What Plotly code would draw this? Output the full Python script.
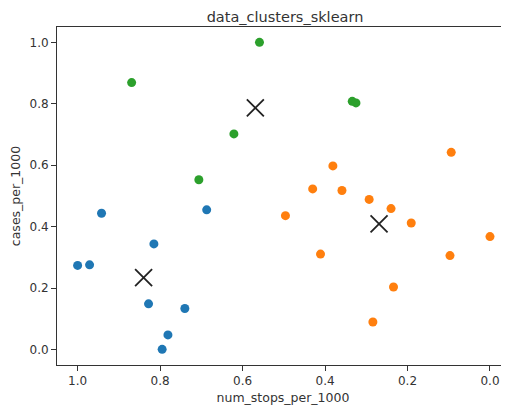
import plotly.graph_objects as go

# cluster 0 (blue)
c0_x = [1.000, 0.971, 0.942, 0.815, 0.687, 0.828, 0.740, 0.781, 0.795]
c0_y = [0.274, 0.276, 0.444, 0.344, 0.455, 0.149, 0.134, 0.048, 0.001]
# cluster 1 (orange)
c1_x = [0.094, 0.381, 0.430, 0.359, 0.293, 0.240, 0.191, 0.496, 0.000, 0.411, 0.097, 0.234, 0.284]
c1_y = [0.642, 0.598, 0.523, 0.518, 0.489, 0.459, 0.412, 0.436, 0.368, 0.311, 0.306, 0.204, 0.090]
# cluster 2 (green)
c2_x = [0.559, 0.869, 0.334, 0.325, 0.621, 0.706]
c2_y = [1.000, 0.869, 0.808, 0.803, 0.702, 0.553]
# centroids
cen_x = [0.840, 0.269, 0.569]
cen_y = [0.234, 0.409, 0.787]

tick_vals = [0.0, 0.2, 0.4, 0.6, 0.8, 1.0]
tick_text = ["0.0", "0.2", "0.4", "0.6", "0.8", "1.0"]

colors = ["#1f77b4", "#ff7f0e", "#2ca02c"]

fig = go.Figure()
for xs, ys, c in [(c0_x, c0_y, colors[0]), (c1_x, c1_y, colors[1]), (c2_x, c2_y, colors[2])]:
    fig.add_trace(go.Scatter(x=xs, y=ys, mode="markers",
                             marker=dict(size=9, color=c, line=dict(width=0)),
                             showlegend=False))
fig.add_trace(go.Scatter(x=cen_x, y=cen_y, mode="markers",
                         marker=dict(symbol="x-thin", size=17, color="#222222",
                                     line=dict(width=1.8, color="#222222")),
                         showlegend=False))

# page body has an 8px default margin; the figure is sized to fit the window
W, H = 501, 400
txt = "#333333"
fig.update_layout(
    width=W, height=H,
    margin=dict(l=49.4, r=0, t=18.6, b=42.6, autoexpand=False),
    paper_bgcolor="white", plot_bgcolor="white",
    font=dict(family="DejaVu Sans", size=12, color=txt),
    title=dict(text="data_clusters_sklearn", x=277 / W, xanchor="center",
               y=1 - 8.5 / H, yanchor="middle", automargin=False,
               font=dict(family="DejaVu Sans", size=14.5, color=txt)),
    xaxis=dict(range=[1.05, -0.0461], tickvals=tick_vals, ticktext=tick_text,
               automargin=False, tickfont=dict(size=12),
               showgrid=False, zeroline=False, showline=True, linecolor=txt,
               linewidth=1, mirror=True, ticks="outside", ticklen=5, tickcolor=txt,
               title=dict(text="num_stops_per_1000", standoff=5,
                          font=dict(family="DejaVu Sans", size=12.5, color=txt))),
    yaxis=dict(range=[-0.05, 1.05], tickvals=tick_vals, ticktext=tick_text,
               automargin=False, tickfont=dict(size=12),
               showgrid=False, zeroline=False, showline=True, linecolor=txt,
               linewidth=1, mirror=False, ticks="outside", ticklen=5, tickcolor=txt,
               title=dict(text="cases_per_1000", standoff=12,
                          font=dict(family="DejaVu Sans", size=12.5, color=txt))),
)
fig.write_html("out.html")
